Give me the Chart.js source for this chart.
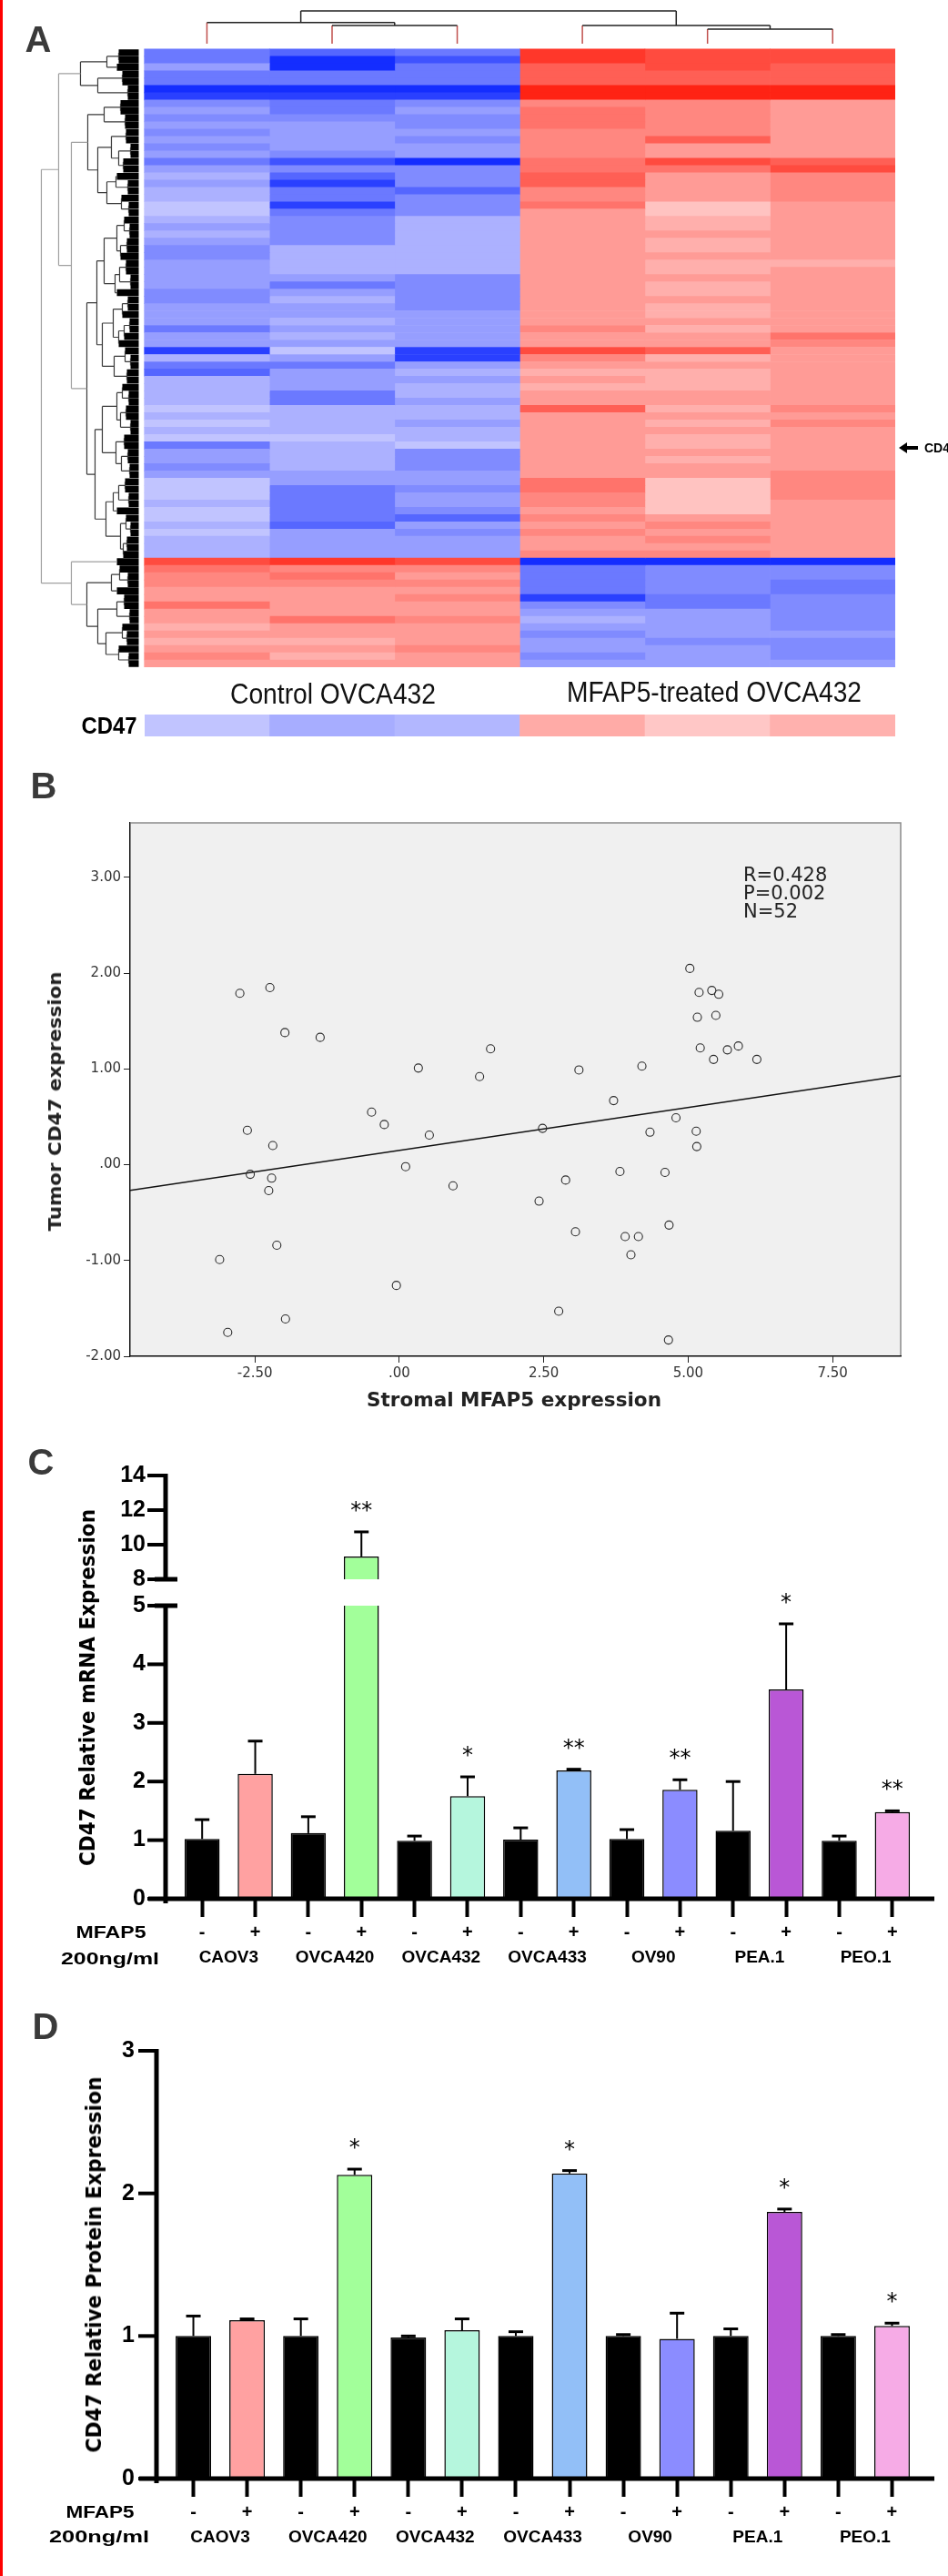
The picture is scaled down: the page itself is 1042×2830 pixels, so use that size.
<!DOCTYPE html>
<html>
<head>
<meta charset="utf-8">
<title>MFAP5 / CD47</title>
<script src="https://cdn.jsdelivr.net/npm/chart.js@4.4.1/dist/chart.umd.min.js"></script>
<style>
  html, body { margin: 0; padding: 0; background: #fff; }
  body { position: relative; width: 1042px; height: 2830px; overflow: hidden; }
  canvas { position: absolute; left: 0; }
  .lbl { position: absolute; white-space: nowrap; line-height: 1; color: #000; }
  #edge { position: absolute; left: 0; top: 0; width: 3px; height: 2830px; background: #ff0000; }
</style>
</head>
<body>
<canvas id="heat" width="1000" height="740" style="top:0"></canvas>
<canvas id="cd47row" width="1000" height="34" style="top:780px"></canvas>
<canvas id="scatter" width="1042" height="650" style="top:880px"></canvas>
<canvas id="mrnaLow" width="1042" height="432" style="top:1738px"></canvas>
<canvas id="mrnaHigh" width="1042" height="160" style="top:1596px"></canvas>
<canvas id="protein" width="1042" height="600" style="top:2230px"></canvas>
<div id="edge"></div>
<script>
// ---------- A: heatmap, one value per gene row (negative = blue, positive = red) ----------
const ctrl1 = [-5,-5,-3,-5,-5,-9,-8,-4,-3,-4, -3,-4,-3,-4,-3,-5,-3,-2,-3,-2, -2,-1,-1,-2,-3,-2,-3,-4,-4,-3,
  -3,-3,-3,-4,-4,-3,-3,-3,-5,-3, -3,-8,-2,-5,-6,-2,-2,-2,-2,-1, -2,-1,-2,-1,-5,-3,-3,-4,-3,-1,
  -1,-1,-2,-1,-1,-2,-1,-2,-2,-2, 7,5,4,4,3,3,5,3,3,2, 3,2,3,4,3];
const ctrl2 = [-6,-9,-9,-5,-5,-9,-8,-5,-5,-4, -3,-3,-3,-3,-4,-7,-4,-6,-8,-5, -5,-8,-5,-4,-4,-4,-4,-2,-2,-2,
  -2,-3,-5,-3,-2,-3,-3,-2,-3,-2, -3,-1,-3,-5,-3,-3,-3,-5,-5,-2, -2,-2,-2,-1,-2,-2,-2,-2,-3,-3,
  -5,-5,-5,-5,-5,-6,-3,-3,-3,-3, 8,4,5,4,3,3,3,3,5,3, 3,2,3,2,3];
const ctrl3 = [-5,-7,-5,-5,-5,-9,-8,-4,-3,-4, -4,-3,-4,-3,-3,-9,-4,-4,-4,-6, -4,-4,-4,-2,-2,-2,-2,-2,-2,-2,
  -2,-4,-4,-4,-4,-4,-3,-3,-3,-3, -3,-8,-8,-3,-2,-3,-2,-2,-3,-2, -2,-3,-2,-2,-1,-4,-4,-4,-3,-3,
  -4,-3,-3,-4,-6,-3,-4,-3,-3,-3, 7,4,3,4,3,4,3,3,4,3, 3,3,4,3,3];
const mfap1 = [8,8,6,6,6,9,9,4,5,5, 5,4,4,4,4,5,5,6,6,4, 4,5,3,3,3,3,3,3,3,3,
  3,3,3,3,3,3,3,3,4,3, 3,7,4,3,2,3,2,3,3,6, 3,3,3,3,3,3,3,3,3,5,
  5,4,4,3,4,3,4,3,3,4, -9,-5,-5,-5,-5,-8,-4,-3,-2,-3, -4,-3,-3,-4,-3];
const mfap2 = [7,7,7,6,6,9,9,4,4,4, 4,4,6,3,3,7,5,3,3,3, 3,1,1,2,2,3,2,2,3,2,
  2,3,2,2,3,2,2,3,2,3, 3,6,2,3,2,2,2,3,3,2, 3,2,3,2,2,3,2,3,3,1,
  1,1,1,1,3,4,3,4,3,4, -9,-4,-4,-4,-4,-5,-5,-3,-3,-3, -3,-4,-3,-3,-3];
const mfap3 = [7,7,6,6,6,9,9,3,3,3, 3,3,3,3,3,6,7,4,4,4, 4,3,3,3,3,3,3,3,3,2,
  3,3,3,3,3,3,3,3,3,5, 4,3,3,3,3,3,3,3,3,4, 3,4,3,3,3,3,3,3,4,4,
  4,4,3,3,3,3,3,3,3,3, -9,-4,-4,-5,-5,-4,-4,-4,-4,-4, -3,-4,-4,-4,-3];
const sampleNames = ['Control 1', 'Control 2', 'Control 3', 'MFAP5 1', 'MFAP5 2', 'MFAP5 3'];
const cd47Row = [-1, -2.2, -1.7, 2.2, 0.8, 1.9];
// merge height between neighbouring rows (row dendrogram)
const rowGaps = [22,35,64,18,45,12,88,20,38,15, 56,14,30,9,22,17,45,25,12,35, 19,11,74,16,10,24,13,20,38,14,
  21,9,26,46,12,18,28,10,16,22, 40,15,9,27,13,57,18,11,24,14, 20,9,40,16,25,12,19,10,48,15,
  22,11,28,36,14,9,20,13,17,107, 74,21,12,30,57,16,24,10,45,18, 13,36,22,11];
// column dendrogram: [left, right, height]
const colTree = [[0, [1, 2, 2.5], 2.9], [3, [4, 5, 2.0], 2.5], 4.5];

// ---------- B: scatter ----------
const mfap5Stroma = [-2.76,-2.24,-1.98,-1.37,1.58,0.33,1.39,3.11,4.20,5.03,5.19,5.41,5.53,5.16,5.48,5.21,5.68,5.87,5.44,6.19,
  3.71,-0.48,-0.26,0.52,2.48,4.79,4.34,5.14,5.15,-2.63,-2.19,-2.58,-2.21,-2.26,0.11,0.93,3.82,4.60,2.88,2.42,
  4.67,3.05,3.91,4.14,4.01,-2.12,-3.11,-0.05,-2.97,-1.97,2.76,4.66];
const cd47Tumor = [1.79,1.85,1.38,1.33,1.21,1.01,0.92,0.99,1.03,2.05,1.80,1.82,1.78,1.54,1.56,1.22,1.20,1.24,1.10,1.10,
  0.67,0.55,0.42,0.31,0.38,0.49,0.34,0.35,0.19,0.36,0.20,-0.10,-0.14,-0.27,-0.02,-0.22,-0.07,-0.08,-0.16,-0.38,
  -0.63,-0.70,-0.75,-0.75,-0.94,-0.84,-0.99,-1.26,-1.75,-1.61,-1.53,-1.83];
const fitSlope = 0.0896, fitIntercept = 0.150;
const xRangeB = [-4.66, 8.68], yRangeB = [-2, 3.57];
const xTicksB = [-2.5, 0, 2.5, 5, 7.5];
const yTicksB = [-2, -1, 0, 1, 2, 3];

// ---------- C / D: bars ----------
const treatLabels = ['-', '+', '-', '+', '-', '+', '-', '+', '-', '+', '-', '+', '-', '+'];
const cellLines = ['CAOV3', 'OVCA420', 'OVCA432', 'OVCA433', 'OV90', 'PEA.1', 'PEO.1'];
const barColors = ['#000', '#ffa1a1', '#000', '#a2ff9a', '#000', '#b5f6dd', '#000', '#92bff7',
  '#000', '#8b8cff', '#000', '#b957d6', '#000', '#f6abe6'];
const mrnaMean = [1.02, 2.13, 1.12, 9.32, 0.99, 1.75, 1.01, 2.19, 1.02, 1.86, 1.16, 3.57, 0.99, 1.48];
const mrnaSem  = [0.33, 0.56, 0.28, 1.42, 0.08, 0.33, 0.20, 0.02, 0.16, 0.17, 0.84, 1.12, 0.08, 0.02];
const mrnaStars = ['', '', '', '**', '', '*', '', '**', '', '**', '', '*', '', '**'];
const protMean = [1.00, 1.11, 1.00, 2.13, 0.99, 1.04, 1.00, 2.14, 1.00, 0.98, 1.00, 1.87, 1.00, 1.07];
const protSem  = [0.14, 0.01, 0.12, 0.04, 0.01, 0.08, 0.03, 0.02, 0.01, 0.18, 0.05, 0.02, 0.01, 0.02];
const protStars = ['', '', '', '*', '', '', '', '*', '', '', '', '*', '', '*'];

function cellColor(v) {
  const t = Math.min(Math.abs(v) / 9, 1);
  if (v < 0) return `rgb(${Math.round(215 - 195 * t)}, ${Math.round(215 - 170 * t)}, 255)`;
  return `rgb(255, ${Math.round(215 - 180 * t)}, ${Math.round(215 - 195 * t)})`;
}

const quiet = {legend: {display: false}, tooltip: {enabled: false}};
// keep tick labels from pushing the plot area inwards
const noPad = s => { s.paddingTop = 0; s.paddingBottom = 0; s.paddingLeft = 0; s.paddingRight = 0; };

// ---- dendrogram segments (in heatmap scale units) ----
const BREAK = {x: null, y: null};
const leafSeg = [], twigSeg = [], trunkSeg = [], colLeafSeg = [], colSeg = [];
function seg(list, x1, y1, x2, y2) { list.push({x: x1, y: y1}, {x: x2, y: y2}, BREAK); }

const leafX = -0.045, gapUnit = 1 / 137.5, leafLen = 24;
const hx = h => leafX - h * gapUnit;
function rowTree(lo, hi) {
  if (lo === hi) return {y: lo + 0.5, h: 0};
  let m = lo;
  for (let i = lo; i < hi; i++) if (rowGaps[i] > rowGaps[m]) m = i;
  const h = rowGaps[m], a = rowTree(lo, m), b = rowTree(m + 1, hi);
  const list = h >= 70 ? trunkSeg : twigSeg;
  [a, b].forEach(n => {
    if (n.h === 0) {
      seg(leafSeg, hx(0), n.y, hx(Math.min(h, leafLen)), n.y);
      if (h > leafLen) seg(list, hx(leafLen), n.y, hx(h), n.y);
    } else {
      seg(list, hx(n.h), n.y, hx(h), n.y);
    }
  });
  seg(list, hx(h), a.y, hx(h), b.y);
  return {y: (a.y + b.y) / 2, h};
}
rowTree(0, ctrl1.length - 1);

const colLeafY = -0.75;
function colWalk(n) {
  if (typeof n === 'number') return {x: n + 0.5, h: 0};
  const [l, r, h] = n, a = colWalk(l), b = colWalk(r);
  [a, b].forEach(k => seg(k.h === 0 ? colLeafSeg : colSeg, k.x, colLeafY - k.h, k.x, colLeafY - h));
  seg(colSeg, a.x, colLeafY - h, b.x, colLeafY - h);
  return {x: (a.x + b.x) / 2, h};
}
colWalk(colTree);

const lineSet = (data, color, width) => ({
  type: 'line', data, borderColor: color, borderWidth: width, pointRadius: 0,
  borderCapStyle: 'butt', spanGaps: false, tension: 0
});

const heatCols = [ctrl1, ctrl2, ctrl3, mfap1, mfap2, mfap3];
new Chart(document.getElementById('heat'), {
  type: 'bar',
  data: {
    datasets: heatCols.map((col, c) => ({
      type: 'bar', label: sampleNames[c], indexAxis: 'y', grouped: false,
      data: col.map((v, r) => ({y: r + 0.5, x: [c, c + 1]})),
      backgroundColor: col.map(cellColor), borderWidth: 0,
      barPercentage: 1, categoryPercentage: 1
    })).concat([
      lineSet(trunkSeg, '#a0a0a0', 1.2),
      lineSet(twigSeg, '#3a3a3a', 1.2),
      lineSet(leafSeg, '#000', 7.6),
      lineSet(colSeg, '#222', 1.5),
      lineSet(colLeafSeg, '#c0504d', 1.5)
    ])
  },
  options: {
    responsive: false, animation: false, events: [],
    layout: {padding: {left: 28, right: 16, top: 10, bottom: 7}},
    plugins: quiet,
    scales: {
      x: {type: 'linear', display: false, min: -0.95, max: 6, offset: false, grid: {offset: false}},
      y: {type: 'linear', display: false, reverse: true, min: -5.5, max: ctrl1.length, offset: false,
          beginAtZero: false, grid: {offset: false}}
    }
  }
});

new Chart(document.getElementById('cd47row'), {
  type: 'bar',
  data: {labels: sampleNames, datasets: [{data: cd47Row.map(() => 1), backgroundColor: cd47Row.map(cellColor),
    borderWidth: 0, barPercentage: 1, categoryPercentage: 1}]},
  options: {
    responsive: false, animation: false, events: [],
    layout: {padding: {left: 159, right: 16, top: 5, bottom: 5}},
    plugins: quiet,
    scales: {x: {display: false}, y: {display: false, min: 0, max: 1}}
  }
});

// ---------- B ----------
const fmt = v => v.toFixed(2).replace(/^(-?)0\./, '$1.');
const plotBox = {
  id: 'plotBox',
  beforeDraw(chart) {
    const {ctx, chartArea: a} = chart;
    ctx.save();
    ctx.fillStyle = '#f0f0f0';
    ctx.fillRect(a.left, a.top, a.width, a.height);
    ctx.strokeStyle = '#8a8a8a';
    ctx.lineWidth = 1.5;
    ctx.strokeRect(a.left, a.top, a.width, a.height);
    ctx.restore();
  }
};
const tickB = {family: 'DejaVu Sans', size: 15};
new Chart(document.getElementById('scatter'), {
  type: 'scatter',
  data: {
    datasets: [
      {data: mfap5Stroma.map((x, i) => ({x, y: cd47Tumor[i]})), pointRadius: 4.5,
       pointBorderColor: '#2b2b2b', pointBackgroundColor: 'rgba(0,0,0,0)', pointBorderWidth: 1.1},
      {type: 'line', data: xRangeB.map(x => ({x, y: fitIntercept + fitSlope * x})),
       borderColor: '#111', borderWidth: 1.5, pointRadius: 0}
    ]
  },
  options: {
    responsive: false, animation: false, events: [],
    layout: {padding: {left: 0, right: 52, top: 24, bottom: 0}},
    plugins: quiet,
    scales: {
      x: {type: 'linear', min: xRangeB[0], max: xRangeB[1],
          afterBuildTicks: s => { s.ticks = xTicksB.map(value => ({value})); },
          ticks: {callback: fmt, font: tickB, color: '#333', padding: 3, maxRotation: 0, autoSkip: false},
          grid: {drawOnChartArea: false, tickLength: 7, color: '#222'},
          border: {color: '#111', width: 1.2},
          afterFit: s => { noPad(s); s.height = 40; }},
      y: {type: 'linear', min: yRangeB[0], max: yRangeB[1],
          afterBuildTicks: s => { s.ticks = yTicksB.map(value => ({value})); },
          ticks: {callback: fmt, font: tickB, color: '#333', padding: 3, autoSkip: false},
          grid: {drawOnChartArea: false, tickLength: 7, color: '#222'},
          border: {color: '#111', width: 1.2},
          afterFit: s => { noPad(s); s.width = 143; }}
    }
  },
  plugins: [plotBox]
});

// ---------- C / D ----------
const panelAxes = {
  id: 'panelAxes',
  afterDatasetsDraw(chart, args, o) {
    const {ctx, chartArea: a, scales: {y}} = chart;
    const ax = a.left - o.gap;
    const line = (x1, y1, x2, y2, w) => {
      ctx.lineWidth = w; ctx.beginPath(); ctx.moveTo(x1, y1); ctx.lineTo(x2, y2); ctx.stroke();
    };
    ctx.save();
    ctx.strokeStyle = '#000';
    ctx.fillStyle = '#000';
    line(ax, y.getPixelForValue(y.max) - 2, ax, y.getPixelForValue(y.min) + (o.xLine ? 5 : 0), 5);
    y.ticks.forEach(t => { const p = y.getPixelForValue(t.value); line(ax - 20, p, ax, p, 4); });
    if (o.brk) {
      const p = y.getPixelForValue(o.brk === 'top' ? y.max : y.min);
      line(ax - 12, p, ax + 13, p, 5);
    }
    if (o.xLine) line(ax - 19, a.bottom, a.right + 17, a.bottom, 5);
    const ds = chart.data.datasets[0];
    ctx.font = '24px "DejaVu Sans"';
    ctx.textAlign = 'center';
    ctx.textBaseline = 'alphabetic';
    chart.getDatasetMeta(0).data.forEach((bar, i) => {
      const top = ds.data[i] + ds.errors[i];
      if (top > y.max || top < y.min) return;
      const pt = y.getPixelForValue(top);
      line(bar.x, y.getPixelForValue(Math.max(ds.data[i], y.min)), bar.x, pt, 2);
      line(bar.x - 8, pt, bar.x + 8, pt, 3);
      if (ds.stars[i]) ctx.fillText(ds.stars[i], bar.x, pt - 16);
    });
    ctx.restore();
  }
};

function barPanel(id, mean, sem, stars, o) {
  const bold = size => ({family: 'Liberation Sans', weight: 'bold', size});
  return new Chart(document.getElementById(id), {
    type: 'bar',
    data: {
      labels: treatLabels,
      datasets: [{data: mean, errors: sem, stars, backgroundColor: barColors, borderColor: '#000',
        borderWidth: 1.5, barPercentage: 0.66, categoryPercentage: 1, clip: 0}]
    },
    options: {
      responsive: false, animation: false, events: [],
      layout: {padding: {left: 0, right: 32, top: o.top, bottom: o.bottom || 0}},
      plugins: Object.assign({panelAxes: {gap: 11, brk: o.brk, xLine: o.xLine}}, quiet),
      scales: {
        x: {display: o.xLine, weight: 1, offset: true, border: {display: false},
            grid: {drawOnChartArea: false, offset: false, tickLength: 20, tickWidth: 4, tickColor: '#000'},
            ticks: {color: '#000', font: bold(20), padding: 5, autoSkip: false, maxRotation: 0},
            afterFit: s => { noPad(s); if (o.xLine) s.height = 45; }},
        g: {type: 'category', labels: cellLines, position: 'bottom', display: o.xLine, weight: 2, offset: true,
            border: {display: false}, grid: {display: false, drawTicks: false},
            ticks: {color: '#000', font: bold(19), padding: 8, autoSkip: false, maxRotation: 0},
            afterFit: s => { noPad(s); if (o.xLine) s.height = o.gH; }},
        y: {min: o.min, max: o.max, border: {display: false}, grid: {display: false, drawTicks: false},
            ticks: {stepSize: o.step, color: '#000', font: bold(25), padding: o.tickPad},
            afterFit: s => { noPad(s); s.width = o.yW; }}
      }
    },
    plugins: [panelAxes]
  });
}

barPanel('mrnaHigh', mrnaMean, mrnaSem, mrnaStars,
  {min: 8, max: 14, step: 2, top: 25, bottom: 21, brk: 'bottom', xLine: false, yW: 193, tickPad: 33});
barPanel('mrnaLow', mrnaMean, mrnaSem, mrnaStars,
  {min: 0, max: 5, step: 1, top: 26, brk: 'top', xLine: true, gH: 39, yW: 193, tickPad: 33});
barPanel('protein', protMean, protSem, protStars,
  {min: 0, max: 3, step: 1, top: 23, xLine: true, gH: 62, yW: 183, tickPad: 35});

// ---------- text ----------
function label(text, x, y, font, opt = {}) {
  const el = document.createElement('div');
  el.className = 'lbl';
  el.textContent = text;
  el.style.font = font;
  if (opt.color) el.style.color = opt.color;
  document.body.appendChild(el);
  const k = opt.w ? opt.w / el.getBoundingClientRect().width : 1;
  el.style.left = x + 'px';
  el.style.top = y + 'px';
  el.style.transformOrigin = opt.left ? '0 50%' : '50% 50%';
  el.style.transform = `translate(${opt.left ? '0' : '-50%'}, -50%)` +
    (opt.rot ? ' rotate(-90deg)' : '') + ` scaleX(${k})`;
}
const letter = 'bold 40px "Liberation Sans"';
label('A', 42, 43, letter, {color: '#3a3a3a'});
label('B', 48, 863, letter, {color: '#3a3a3a'});
label('C', 45, 1606, letter, {color: '#3a3a3a'});
label('D', 50, 2226, letter, {color: '#3a3a3a'});

label('Control OVCA432', 366, 762, '32px "Liberation Sans"', {w: 226, color: '#111'});
label('MFAP5-treated OVCA432', 785, 760, '32px "Liberation Sans"', {w: 324, color: '#111'});
label('CD47', 120, 797, 'bold 25px "Liberation Sans"', {w: 61});
const head = document.createElement('div');
head.style.cssText = 'position:absolute;left:988px;top:486px;width:0;height:0;' +
  'border-top:6px solid transparent;border-bottom:6px solid transparent;border-right:9px solid #000';
const shaft = document.createElement('div');
shaft.style.cssText = 'position:absolute;left:996px;top:490px;width:13px;height:4px;background:#000';
document.body.append(head, shaft);
label('CD47', 1016, 492, 'bold 14px "Liberation Sans"', {left: true});

label('R=0.428', 817, 961, '21px "DejaVu Sans"', {left: true, color: '#222'});
label('P=0.002', 817, 981, '21px "DejaVu Sans"', {left: true, color: '#222'});
label('N=52', 817, 1001, '21px "DejaVu Sans"', {left: true, color: '#222'});
label('Tumor CD47 expression', 60, 1210, 'bold 20px "DejaVu Sans"', {rot: true, w: 285, color: '#222'});
label('Stromal MFAP5 expression', 565, 1538, 'bold 21px "DejaVu Sans"', {w: 324, color: '#222'});

label('CD47 Relative mRNA Expression', 96, 1854, 'bold 23px "DejaVu Sans"', {rot: true, w: 392});
label('CD47 Relative Protein Expression', 103, 2488, 'bold 23px "DejaVu Sans"', {rot: true, w: 413});
label('MFAP5', 122, 2123, 'bold 19px "Liberation Sans"', {w: 77});
label('200ng/ml', 121, 2152, 'bold 19px "Liberation Sans"', {w: 108});
label('MFAP5', 110, 2760, 'bold 19px "Liberation Sans"', {w: 75});
label('200ng/ml', 109, 2787, 'bold 19px "Liberation Sans"', {w: 110});
</script>
</body>
</html>
